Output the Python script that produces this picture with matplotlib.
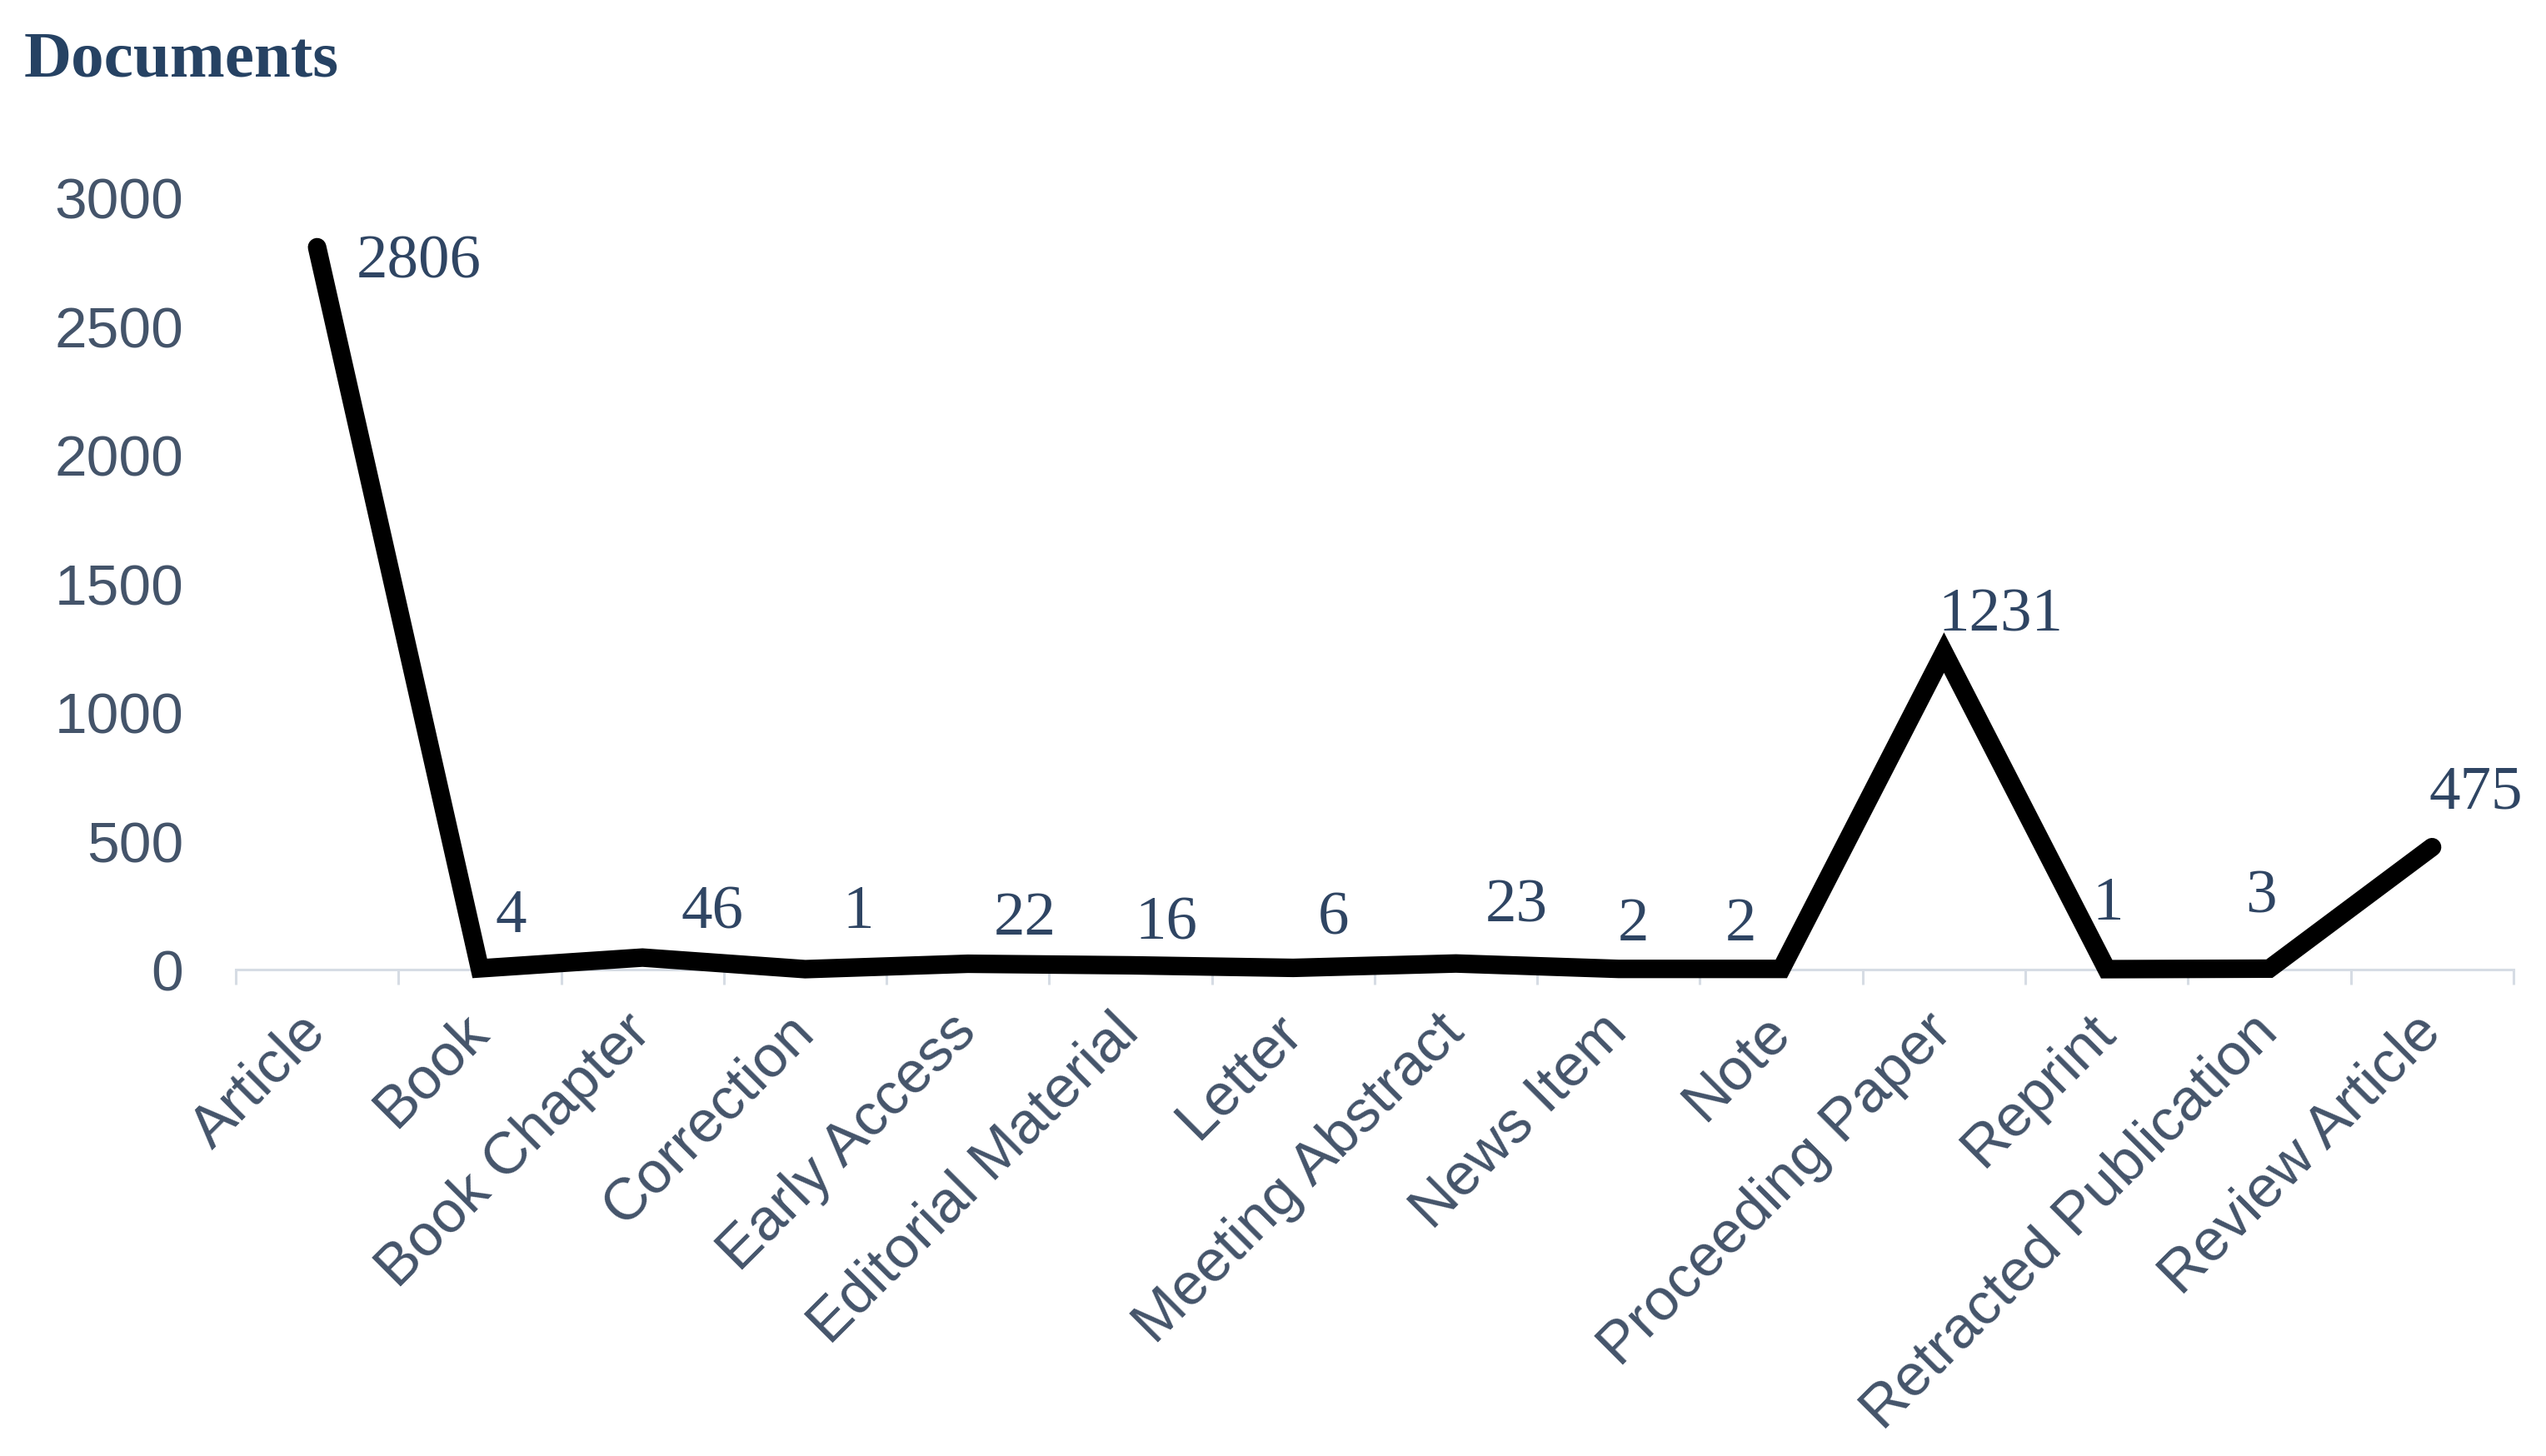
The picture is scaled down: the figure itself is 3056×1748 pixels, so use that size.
import numpy as np
import matplotlib.pyplot as plt

# document types and counts
doc_types = ['Article', 'Book', 'Book Chapter', 'Correction', 'Early Access',
             'Editorial Material', 'Letter', 'Meeting Abstract', 'News Item',
             'Note', 'Proceeding Paper', 'Reprint', 'Retracted Publication',
             'Review Article']
doc_counts = [2806, 4, 46, 1, 22, 16, 6, 23, 2, 2, 1231, 1, 3, 475]
y_ticks = [0, 500, 1000, 1500, 2000, 2500, 3000]

# hand placed label offsets (points), like the excel original
label_offsets = [(88, -13), (27, 45), (60, 39), (46, 49), (49, 39), (31, 36),
                 (35, 43), (52, 50), (13, 38), (-35, 38), (49, 32), (1, 56),
                 (-7, 62), (38, 47)]

TICK_COL = '#44546A'
LABEL_COL = '#2F4563'
AXIS_COL = '#D6DCE4'


def plot_documents():
    fig = plt.figure(figsize=(30.56, 17.49), dpi=100)
    ax = fig.add_axes([0.0926, 0.334, 0.8946, 0.530])

    x = np.arange(len(doc_types))
    ax.plot(x, doc_counts, color='black', lw=16, zorder=3,
            solid_joinstyle='miter', solid_capstyle='round', clip_on=False)

    for xi, yi, (dx, dy) in zip(x, doc_counts, label_offsets):
        ax.annotate(str(yi), (xi, yi), xytext=(dx, dy), textcoords='offset points',
                    ha='center', va='center', fontsize=54,
                    family='Liberation Serif', color=LABEL_COL, annotation_clip=False)

    ax.set_xlim(-0.5, len(doc_types) - 0.5)
    ax.set_ylim(0, 3000)
    ax.set_yticks(y_ticks)
    ax.set_yticklabels([str(t) for t in y_ticks])

    # category axis: ticks sit between categories
    ax.set_xticks(np.arange(-0.5, len(doc_types), 1.0))
    ax.set_xticklabels([])
    ax.set_xticks(x, minor=True)
    ax.set_xticklabels(doc_types, minor=True, rotation=45, ha='right',
                       va='center', rotation_mode='anchor')

    for s in ['top', 'right', 'left']:
        ax.spines[s].set_visible(False)
    ax.spines['bottom'].set_color(AXIS_COL)
    ax.spines['bottom'].set_linewidth(2.2)

    ax.tick_params(axis='x', which='major', length=13, width=2.2, color=AXIS_COL)
    ax.tick_params(axis='x', which='minor', length=0, pad=46,
                   labelsize=51, labelcolor=TICK_COL)
    ax.tick_params(axis='y', length=0, pad=45, labelsize=50, labelcolor=TICK_COL)
    for lab in ax.get_xticklabels(minor=True) + ax.get_yticklabels():
        lab.set_family('Liberation Sans')

    fig.text(0.0095, 0.958, 'Documents', fontsize=57, fontweight='bold',
             family='Liberation Serif', color='#264263', ha='left', va='center')

    fig.savefig('out.png', dpi=100)


def main():
    plot_documents()


if __name__ == '__main__':
    main()
